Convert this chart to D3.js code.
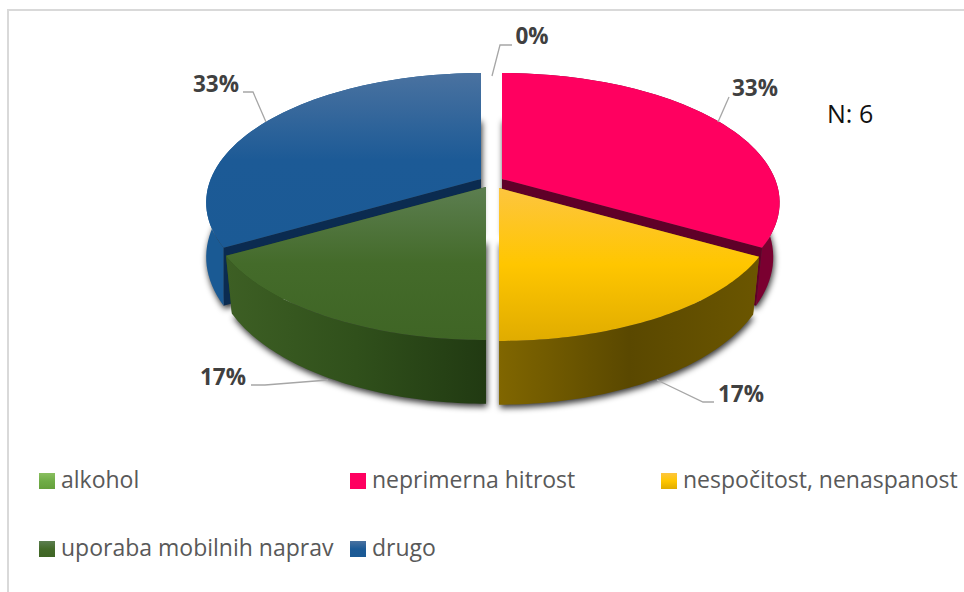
<!DOCTYPE html>
<html><head><meta charset="utf-8">
<script src="https://cdnjs.cloudflare.com/ajax/libs/d3/7.8.5/d3.min.js"></script>
<style>html,body{margin:0;padding:0;background:#fff}svg{display:block}</style>
</head><body><svg id="c" width="964" height="592"></svg>
<script>
const categories = ["alkohol","neprimerna hitrost","nespočitost, nenaspanost","uporaba mobilnih naprav","drugo"];
const counts = [0,2,1,1,2];
const percentLabels = ["0%","33%","17%","17%","33%"];
const topColors = [
  ["#8abf60","#70ad47","#65a03c"],
  ["#ff0060","#ff0060","#ff0060"],
  ["#fdc53f","#ffc600","#e0ac00"],
  ["#5c7e50","#446b2a","#3f6525"],
  ["#4a72a0","#1c5a96","#1b5a95"]];
const wallColors = [
  ["#3f5f20","#3f5f20","#3f5f20"],
  ["#7a0030","#7a0030","#7a0030"],
  ["#806600","#5a4800","#6b5600"],
  ["#3d5f24","#30501b","#213a12"],
  ["#1a5a94","#1a5a94","#1a5a94"]];
const cutColors = ["#3f5f20","#5f0028","#806600","#2a4717","#0b2b50"];

// exploded slice centres and perspective constants
const apex = [[492,176],[502,179],[499,188],[486,187],[481,179]];
const radiusScale = [1,1,1,1,0.99];
const baseScale = [0.977,0.977,0.977,0.977,1.0];
const A=273, B=125.2, K=0.1815, BASE_Y=1.07, BASE_DY=53;

const svg = d3.select("#c");
const defs = svg.append("defs");
const grad=(id,cols,horizontal)=>{
  const g=defs.append("linearGradient").attr("id",id).attr("x1",0).attr("y1",0)
    .attr("x2",horizontal?1:0).attr("y2",horizontal?0:1);
  cols.forEach((c,i)=>g.append("stop").attr("offset",i/(cols.length-1)).attr("stop-color",c));
};
categories.forEach((_,i)=>{grad("top"+i,topColors[i],false);grad("wall"+i,wallColors[i],true);});
defs.append("filter").attr("id","blur").attr("filterUnits","userSpaceOnUse")
  .attr("x",0).attr("y",0).attr("width",964).attr("height",592)
  .append("feGaussianBlur").attr("stdDeviation",3.2);

// frame
svg.append("path").attr("d","M8,592V10H964").attr("fill","none").attr("stroke","#d9d9d9").attr("stroke-width",2);

const pie=d3.pie().sort(null).value(d=>d)(counts);
const project=(i,a,base)=>{
  const X=Math.sin(a),Y=Math.cos(a),w=1+K*Y,[x0,y0]=apex[i],r=A*radiusScale[i];
  return base?[x0+baseScale[i]*r*X/w,y0+BASE_DY-BASE_Y*B*Y/w]:[x0+r*X/w,y0-B*Y/w];
};
const line=d3.line();
const arcPts=(i,a0,a1,base)=>d3.range(0,61).map(k=>project(i,a0+(a1-a0)*k/60,base));
const centre=(i,base)=>base?[apex[i][0],apex[i][1]+BASE_DY]:apex[i];
const sector=(i,d,base)=>line([centre(i,base),...arcPts(i,d.startAngle,d.endAngle,base)])+"Z";

const order=[4,1,3,2];
// shadows
const sh=svg.append("g").attr("filter","url(#blur)").attr("transform","translate(1,3)");
order.forEach(i=>sh.append("path").attr("d",sector(i,pie[i],true)).attr("fill","#000").attr("fill-opacity",.8));
// slices
order.forEach(i=>{
  const d=pie[i],g=svg.append("g");
  [d.startAngle,d.endAngle].forEach(a=>
    g.append("path").attr("d",line([project(i,a,false),project(i,a,true),centre(i,true),centre(i,false)])+"Z").attr("fill",cutColors[i]));
  g.append("path").attr("d",line([...arcPts(i,d.startAngle,d.endAngle,false),...arcPts(i,d.startAngle,d.endAngle,true).reverse()])+"Z").attr("fill",`url(#wall${i})`);
  g.append("path").attr("d",sector(i,d,false)).attr("fill",`url(#top${i})`);
});

// leaders and data labels
const leaders=[
  [[492,76],[500,45],[512,45]],
  [[718,122],[729,97]],
  [[657,380],[703,402],[714,402]],
  [[328,380],[265,385],[251,385]],
  [[266,122],[253,92],[243,92]]];
const labelPos=[[532,44],[755,96],[741,402],[223,385],[216,92]];
const font="'Open Sans',sans-serif";
leaders.forEach(p=>svg.append("path").attr("d",line(p)).attr("fill","none").attr("stroke","#a6a6a6").attr("stroke-width",1.3));
percentLabels.forEach((t,i)=>svg.append("text").attr("x",labelPos[i][0]).attr("y",labelPos[i][1])
  .attr("text-anchor","middle").attr("font-family",font).attr("font-weight",700).attr("font-size",22.5).attr("fill","#404040").text(t));

svg.append("text").attr("x",827).attr("y",123).attr("font-family",font).attr("font-size",25).attr("fill","#111").text("N: 6");

// legend
const legendPos=[[39,473],[350,473],[661,473],[39,541],[350,541]];
categories.forEach((t,i)=>{
  svg.append("rect").attr("x",legendPos[i][0]).attr("y",legendPos[i][1]).attr("width",16).attr("height",16).attr("fill",`url(#top${i})`);
  svg.append("text").attr("x",legendPos[i][0]+22).attr("y",legendPos[i][1]+15).attr("font-family",font).attr("font-size",23).attr("fill","#595959").text(t);
});
</script></body></html>
